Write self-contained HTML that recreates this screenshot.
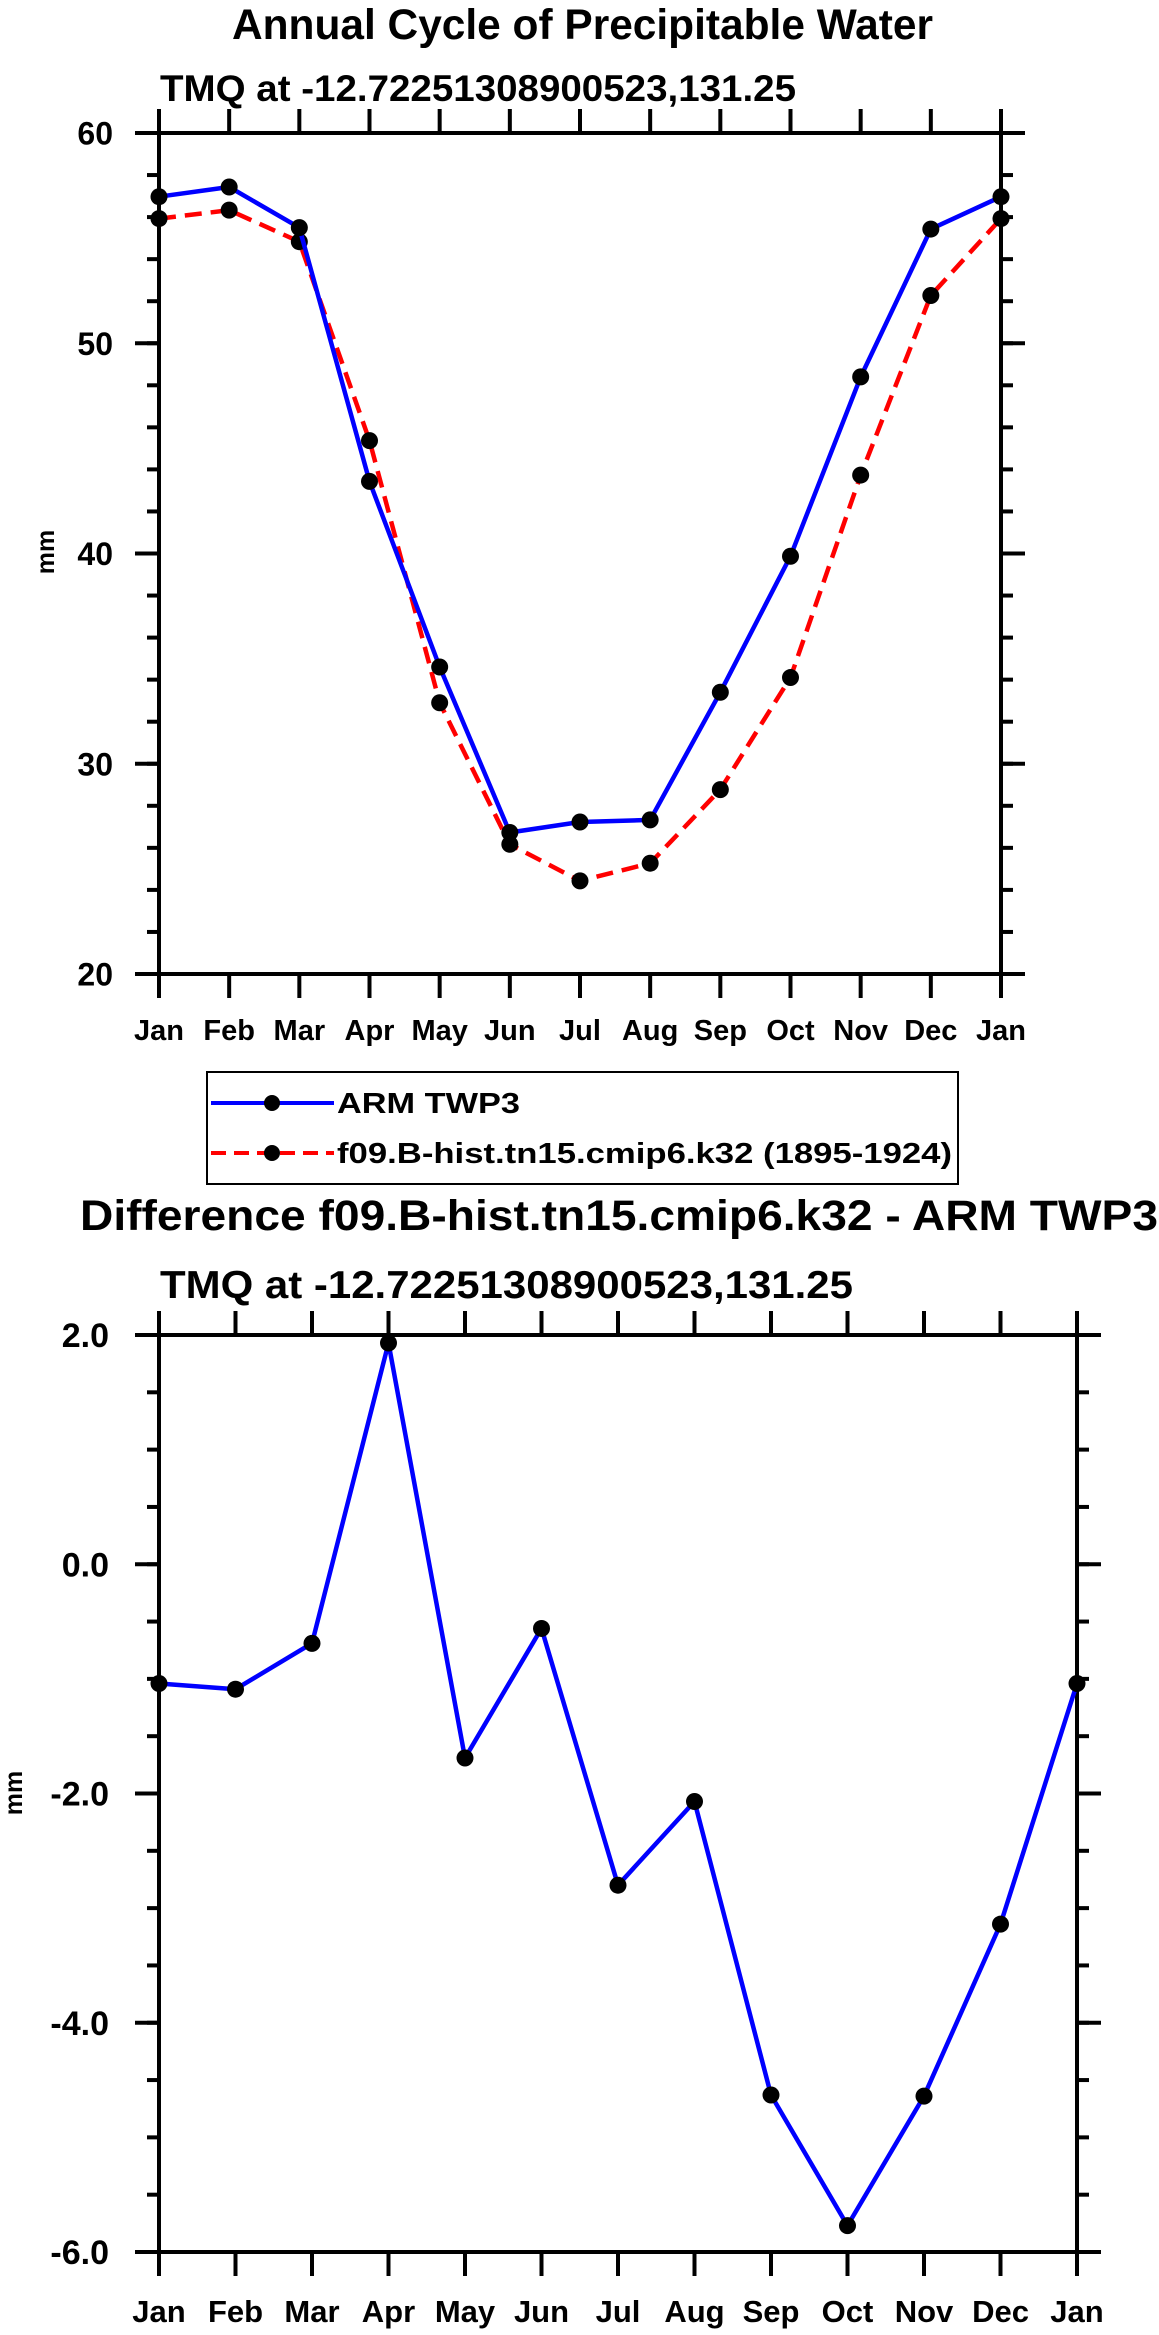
<!DOCTYPE html>
<html><head><meta charset="utf-8"><style>
html,body{margin:0;padding:0;background:#fff}
svg{display:block}
text{font-family:"Liberation Sans",Arial,sans-serif;font-weight:bold;fill:#000}
</style></head><body>
<svg id="fig" width="1159" height="2335" viewBox="0 0 1159 2335" xmlns="http://www.w3.org/2000/svg">
<text x="232" y="39" font-size="43" textLength="701" lengthAdjust="spacingAndGlyphs">Annual Cycle of Precipitable Water</text>
<text x="160" y="101" font-size="37" textLength="636" lengthAdjust="spacingAndGlyphs">TMQ at -12.72251308900523,131.25</text>
<g id="top"></g>
<g>
<rect x="207" y="1072" width="751" height="112" fill="none" stroke="#000" stroke-width="2"/>
<line x1="211" y1="1103" x2="334" y2="1103" stroke="#0000ff" stroke-width="4"/>
<circle cx="272" cy="1103" r="8"/>
<text x="337" y="1113" font-size="29" textLength="183" lengthAdjust="spacingAndGlyphs">ARM TWP3</text>
<line x1="211" y1="1153" x2="334" y2="1153" stroke="#ff0000" stroke-width="4" stroke-dasharray="15,8"/>
<circle cx="272" cy="1153" r="8"/>
<text x="337" y="1163" font-size="29" textLength="615" lengthAdjust="spacingAndGlyphs">f09.B-hist.tn15.cmip6.k32 (1895-1924)</text>
</g>
<text x="80" y="1230" font-size="43" textLength="1078" lengthAdjust="spacingAndGlyphs">Difference f09.B-hist.tn15.cmip6.k32 - ARM TWP3</text>
<text x="160" y="1298" font-size="39" textLength="693" lengthAdjust="spacingAndGlyphs">TMQ at -12.72251308900523,131.25</text>
<g id="bot"></g>
</svg>
<script>
const months = ["Jan","Feb","Mar","Apr","May","Jun","Jul","Aug","Sep","Oct","Nov","Dec","Jan"];
const armValues = [56.97,57.43,55.5,43.43,34.6,26.73,27.23,27.33,33.4,39.87,48.4,55.43,56.97];
const modelValues = [55.93,56.33,54.83,45.37,32.9,26.17,24.43,25.27,28.77,34.1,43.73,52.27,55.93];
const diffValues = [-1.04,-1.09,-0.69,1.93,-1.69,-0.56,-2.8,-2.07,-4.63,-5.77,-4.64,-3.14,-1.04];
const topYTicks = [20,30,40,50,60];
const topYTickLabels = ["20","30","40","50","60"];
const botYTicks = [-6,-4,-2,0,2];
const botYTickLabels = ["-6.0","-4.0","-2.0","0.0","2.0"];

const NS = "http://www.w3.org/2000/svg";
function mk(parent, tag, attrs, text){
  const e = document.createElementNS(NS, tag);
  for (const k in attrs) e.setAttribute(k, attrs[k]);
  if (text !== undefined) e.textContent = text;
  parent.appendChild(e);
  return e;
}

function drawChart(g, cfg){
  const {L,R,T,B,ymin,ymax,minorStep,yticks,ylabels,yFont,xFont,xLabelY,yLabelX,mmX,mmY,prefix} = cfg;
  const xs = i => L + i*(R-L)/12;
  const ys = v => B - (v-ymin)*(B-T)/(ymax-ymin);
  const tick = (x1,y1,x2,y2,name) => {
    const l = mk(g,'line',{x1,y1,x2,y2,stroke:'#000','stroke-width':4});
    
    
  };
  const nMinor = Math.round((ymax-ymin)/minorStep);
  for (let k=0;k<=nMinor;k++){
    const v = ymin + k*minorStep;
    const y = ys(v);
    tick(L-12,y,L,y,prefix+'-y-minor-tick');
    tick(R,y,R+12,y,prefix+'-y-minor-tick');
  }
  yticks.forEach((v,i)=>{
    const y = ys(v);
    tick(L-24,y,L,y,prefix+'-y-major-tick');
    tick(R,y,R+24,y,prefix+'-y-major-tick');
    const t = mk(g,'text',{x:yLabelX,y:y+yFont*0.36,'font-size':yFont,'text-anchor':'end'},ylabels[i]);
    
    
  });
  months.forEach((m,i)=>{
    const x = xs(i);
    tick(x,T-24,x,T,prefix+'-x-tick-top');
    tick(x,B,x,B+24,prefix+'-x-tick-bottom');
    const t = mk(g,'text',{x:x,y:xLabelY,'font-size':xFont,'text-anchor':'middle'},m);
    
    
  });
  const frame = mk(g,'rect',{x:L,y:T,width:R-L,height:B-T,fill:'none',stroke:'#000','stroke-width':4});
  
  
  const mm = mk(g,'text',{x:mmX,y:mmY,'font-size':25,'text-anchor':'middle',transform:`rotate(-90 ${mmX} ${mmY})`},'mm');
  
  

  cfg.series.forEach(s=>{
    const pts = s.values.map((v,i)=>xs(i).toFixed(1)+','+ys(v).toFixed(1)).join(' ');
    const pl = mk(g,'polyline',{points:pts,fill:'none',stroke:s.color,'stroke-width':4.5,'stroke-linejoin':'round'});
    if (s.dash) pl.setAttribute('stroke-dasharray', s.dash);
    
    
    s.values.forEach((v,i)=>{
      const c = mk(g,'circle',{cx:xs(i),cy:ys(v),r:8.5,fill:'#000'});
      
      
    });
  });
}

drawChart(document.getElementById('top'),{
  L:159,R:1001,T:133,B:974,ymin:20,ymax:60,minorStep:2,
  yticks:topYTicks,ylabels:topYTickLabels,yFont:32,xFont:29,xLabelY:1040,yLabelX:113,
  mmX:54,mmY:552,prefix:'top',
  series:[
    {name:'model',values:modelValues,color:'#ff0000',dash:'17,9'},
    {name:'arm',values:armValues,color:'#0000ff'}
  ]
});
drawChart(document.getElementById('bot'),{
  L:159,R:1077,T:1335,B:2252,ymin:-6,ymax:2,minorStep:0.5,
  yticks:botYTicks,ylabels:botYTickLabels,yFont:34,xFont:31,xLabelY:2322,yLabelX:109,
  mmX:22,mmY:1793,prefix:'bottom',
  series:[
    {name:'difference',values:diffValues,color:'#0000ff'}
  ]
});
</script>
</body></html>
